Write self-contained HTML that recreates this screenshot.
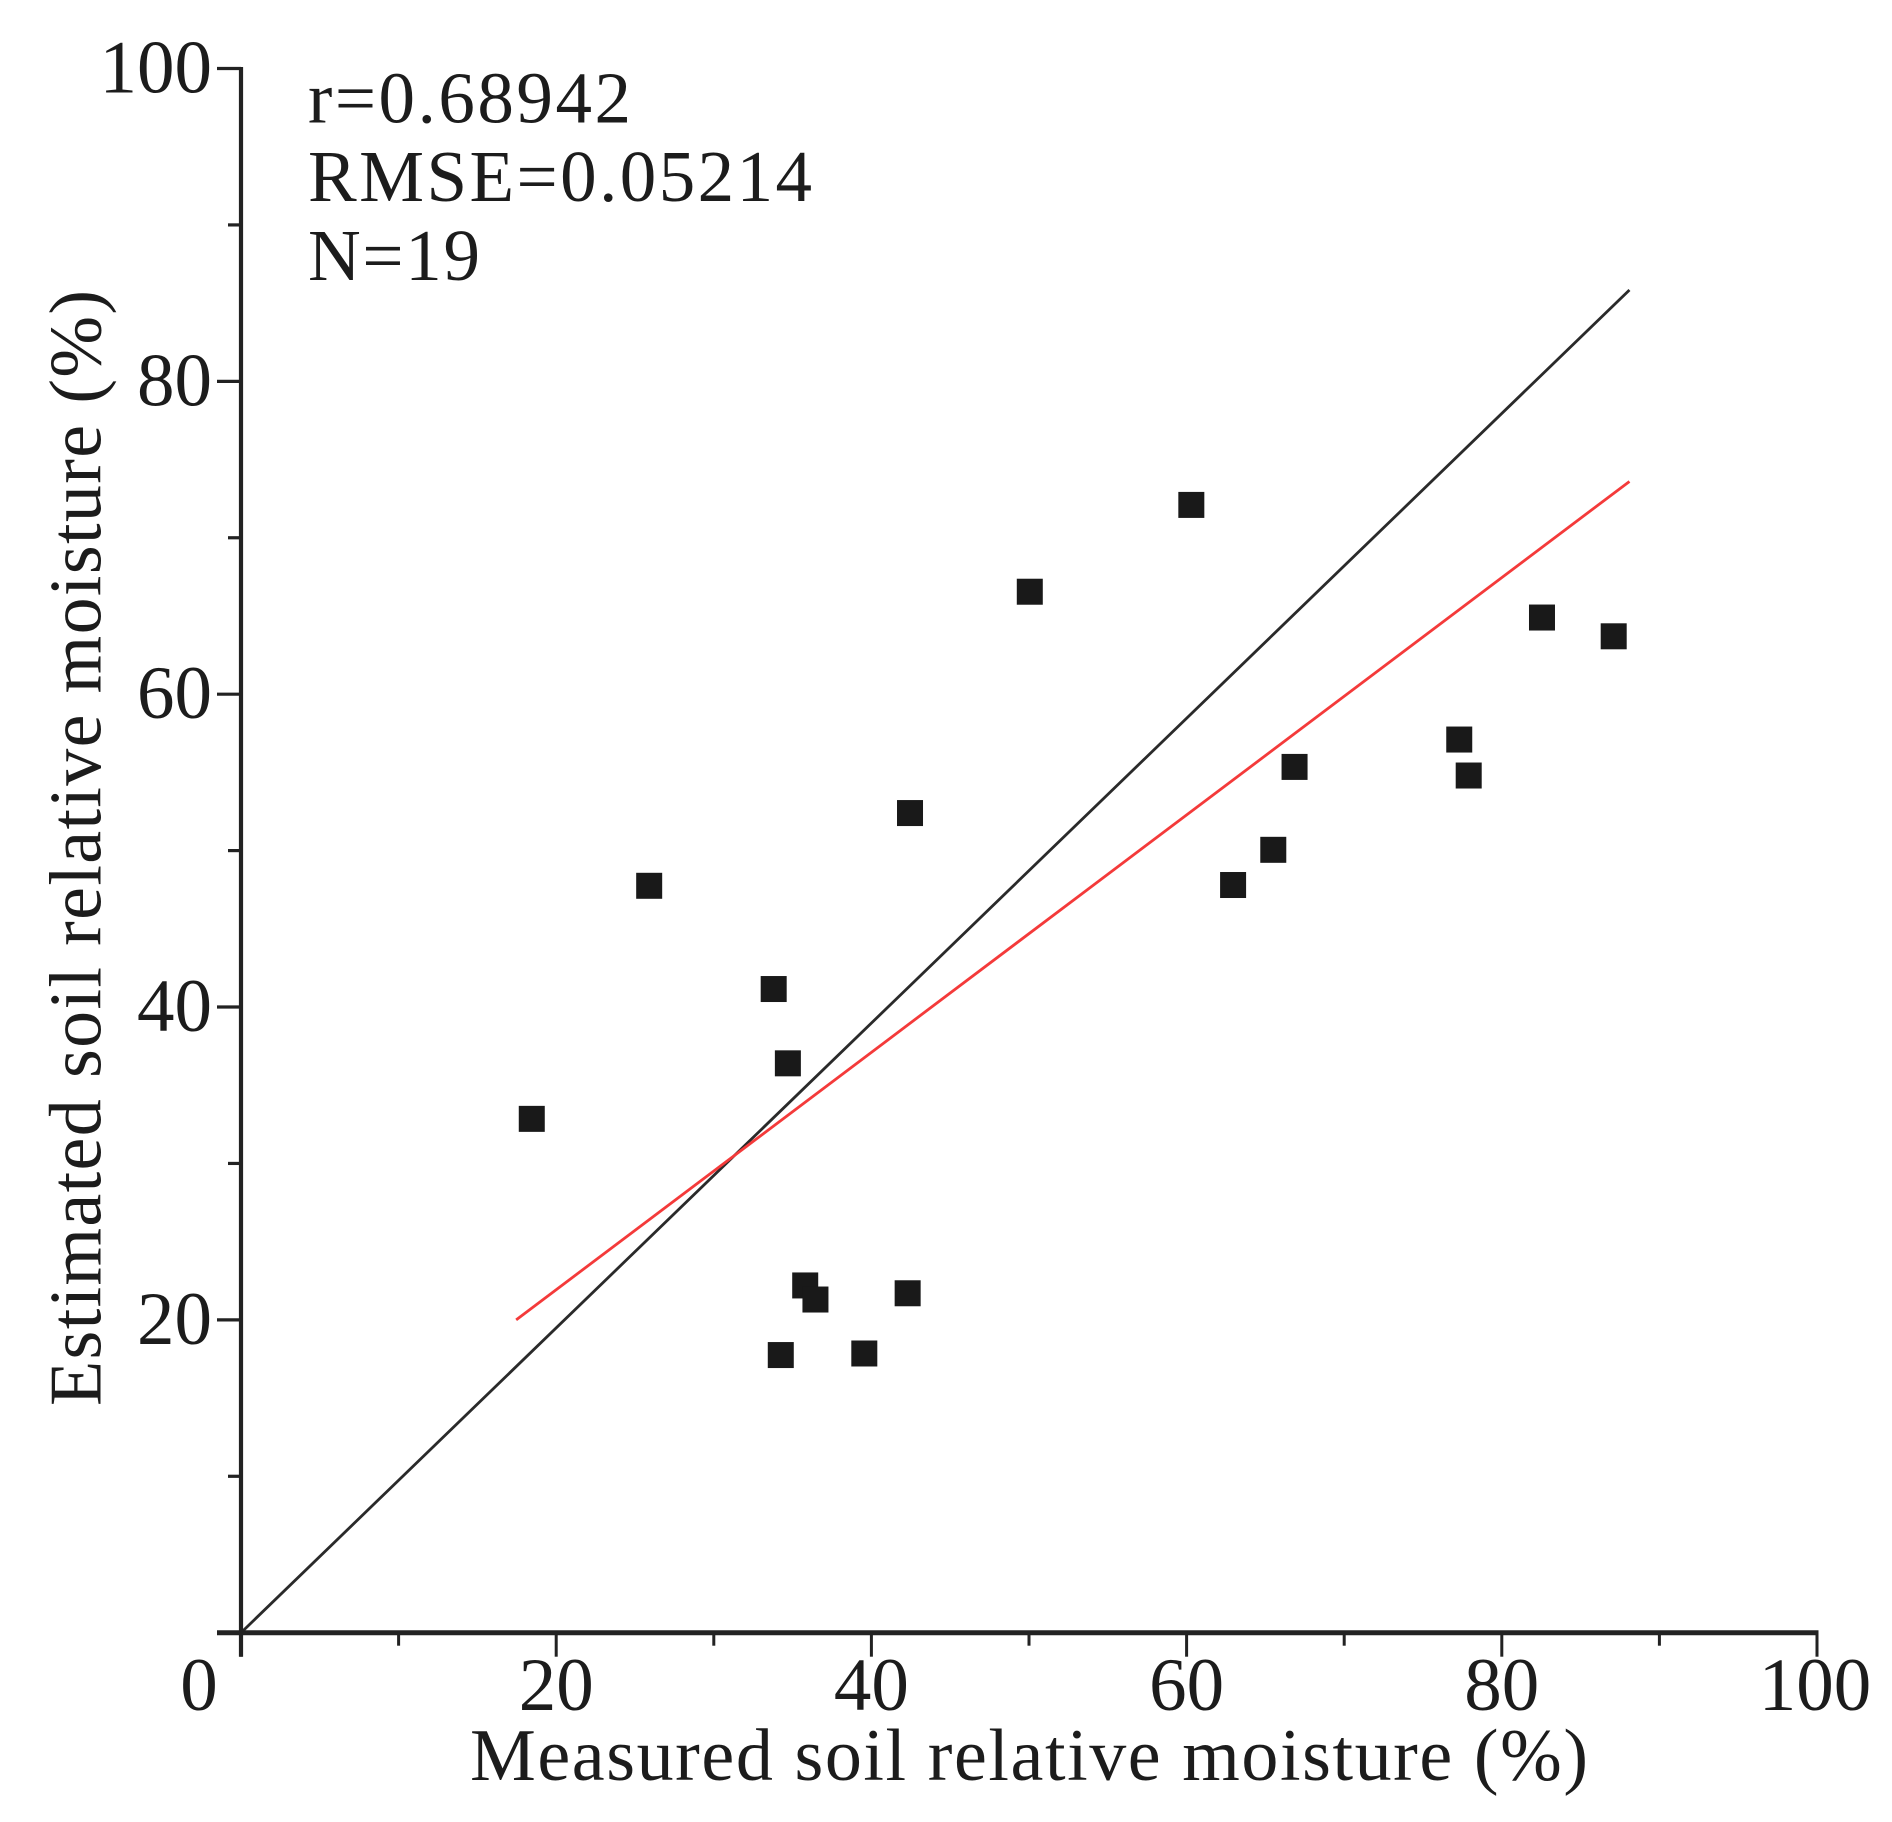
<!DOCTYPE html>
<html lang="en">
<head>
<meta charset="utf-8">
<title>Measured vs estimated soil relative moisture</title>
<style>
  html, body { margin: 0; padding: 0; background: #fff; }
  #chart { display: block; width: 1892px; height: 1822px; background: #fff; }
  text { font-family: "Liberation Serif", serif; fill: #1c1c1c; font-size: 75px; }
  .title { font-size: 74px; }
  .stat { font-size: 73px; }
</style>
</head>
<body>
<svg id="chart" xmlns="http://www.w3.org/2000/svg" width="1892" height="1822" viewBox="0 0 1892 1822">
  <g id="lines"></g>
  <g id="axes"></g>
  <g id="points"></g>
  <text class="title" x="470" y="1780" textLength="1118" lengthAdjust="spacing">Measured soil relative moisture (%)</text>
  <text class="title" transform="translate(100.5 1406) rotate(-90)" x="0" y="0" textLength="1116" lengthAdjust="spacing">Estimated soil relative moisture (%)</text>
  <text class="stat" x="308" y="122.5" textLength="323" lengthAdjust="spacing">r=0.68942</text>
  <text class="stat" x="308" y="201" textLength="504" lengthAdjust="spacing">RMSE=0.05214</text>
  <text class="stat" x="308" y="280" textLength="172" lengthAdjust="spacing">N=19</text>
</svg>
<script>
const xTickLabels = [0, 20, 40, 60, 80, 100];
const yTickLabels = [20, 40, 60, 80, 100];
const xMinorTicks = [10, 30, 50, 70, 90];
const yMinorTicks = [10, 30, 50, 70, 90];
const measured = [18.45, 25.9, 33.8, 34.7, 42.45, 50.05, 60.3, 62.95, 65.5, 66.85, 77.3, 77.9, 82.55, 87.1, 35.8, 36.45, 42.3, 34.25, 39.55];
const estimated = [32.85, 47.75, 41.15, 36.4, 52.4, 66.55, 72.1, 47.8, 50.05, 55.35, 57.1, 54.8, 64.9, 63.7, 22.2, 21.3, 21.7, 17.75, 17.85];
const identityLineX = [0, 88.1];
const identityLineY = [0, 85.84];
const fitLineX = [17.46, 88.1];
const fitLineY = [20.0, 73.6];

const SVG_NS = 'http://www.w3.org/2000/svg';
const X0 = 241, X100 = 1817, Y0 = 1632.7, Y100 = 68.5;
function xScale(v) { return X0 + (X100 - X0) * v / 100; }
function yScale(v) { return Y0 + (Y100 - Y0) * v / 100; }
function make(tag, attrs, parent) {
  const el = document.createElementNS(SVG_NS, tag);
  for (const k in attrs) el.setAttribute(k, attrs[k]);
  parent.appendChild(el);
  return el;
}

const axes = document.getElementById('axes');
const linesGroup = document.getElementById('lines');
const pointsGroup = document.getElementById('points');
const AXIS = '#222222';

const xAxis = make('line', {x1: 217, x2: X100 + 1.5, y1: Y0, y2: Y0, stroke: AXIS, 'stroke-width': 5}, axes);


const yAxis = make('line', {x1: X0, x2: X0, y1: Y100 - 1.5, y2: Y0 + 24, stroke: AXIS, 'stroke-width': 4.2}, axes);



xTickLabels.forEach(function (v) {
  const px = xScale(v);
  const tick = make('line', {x1: px, x2: px, y1: Y0, y2: Y0 + 24, stroke: AXIS, 'stroke-width': 3}, axes);
  
  
  const label = make('text', {x: v === 0 ? px - 42 : px + (v === 100 ? -2 : 0), y: 1710, 'text-anchor': 'middle'}, axes);
  label.textContent = String(v);
  
  
});
xMinorTicks.forEach(function (v) {
  const px = xScale(v);
  const tick = make('line', {x1: px, x2: px, y1: Y0, y2: Y0 + 13, stroke: AXIS, 'stroke-width': 3}, axes);
  
  
});
yTickLabels.forEach(function (v) {
  const py = yScale(v);
  const tick = make('line', {x1: 217, x2: X0, y1: py, y2: py, stroke: AXIS, 'stroke-width': 3.2}, axes);
  
  
  const label = make('text', {x: 212, y: py + 24, 'text-anchor': 'end'}, axes);
  label.textContent = String(v);
  
  
});
yMinorTicks.forEach(function (v) {
  const py = yScale(v);
  const tick = make('line', {x1: 228, x2: X0, y1: py, y2: py, stroke: AXIS, 'stroke-width': 3.2}, axes);
  
  
});

const identityLine = make('line', {
  x1: xScale(identityLineX[0]), y1: yScale(identityLineY[0]),
  x2: xScale(identityLineX[1]), y2: yScale(identityLineY[1]),
  stroke: '#2a2a2a', 'stroke-width': 2.8
}, linesGroup);


const fitLine = make('line', {
  x1: xScale(fitLineX[0]), y1: yScale(fitLineY[0]),
  x2: xScale(fitLineX[1]), y2: yScale(fitLineY[1]),
  stroke: '#f43a3a', 'stroke-width': 2.8
}, linesGroup);



const MARKER = 26;
measured.forEach(function (m, i) {
  const point = make('rect', {
    x: xScale(m) - MARKER / 2, y: yScale(estimated[i]) - MARKER / 2,
    width: MARKER, height: MARKER, fill: '#191919'
  }, pointsGroup);
  
  
});
</script>
</body>
</html>
